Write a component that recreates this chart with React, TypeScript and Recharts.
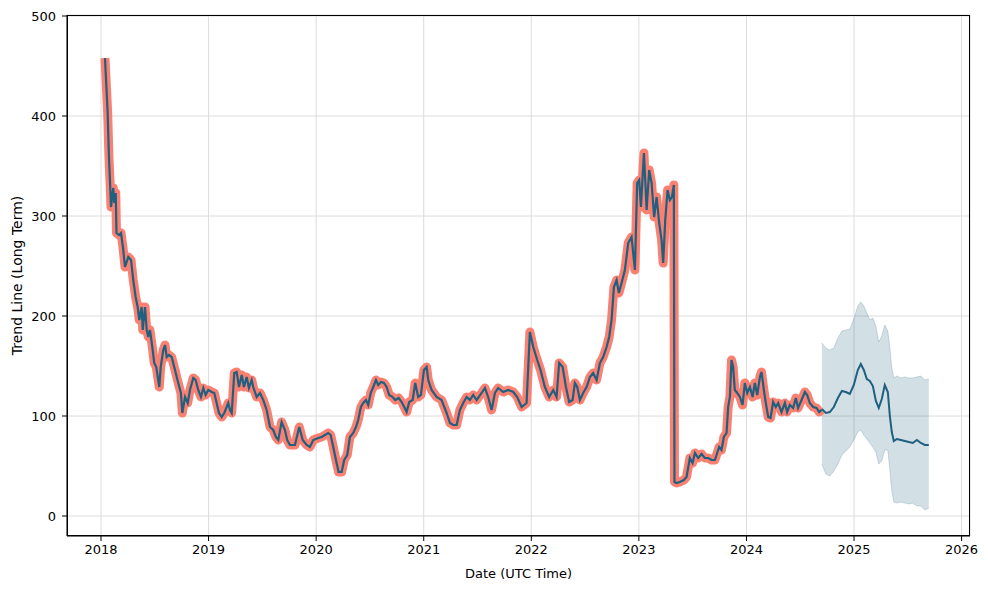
import { ComposedChart, Line, Area, XAxis, YAxis, CartesianGrid, Label } from 'recharts';

// history (decimal years, value)
const histT = [
  2018.037, 2018.062, 2018.074, 2018.086, 2018.093, 2018.114, 2018.124, 2018.137, 2018.144, 2018.167,
  2018.186, 2018.204, 2018.223, 2018.254, 2018.279, 2018.300, 2018.322, 2018.341, 2018.356, 2018.378,
  2018.388, 2018.409, 2018.425, 2018.440, 2018.455, 2018.477, 2018.495, 2018.514, 2018.542, 2018.555,
  2018.579, 2018.595, 2018.611, 2018.632, 2018.657, 2018.688, 2018.718, 2018.743, 2018.756, 2018.781,
  2018.806, 2018.827, 2018.858, 2018.880, 2018.904, 2018.929, 2018.951, 2018.973, 2018.997, 2019.029,
  2019.053, 2019.075, 2019.097, 2019.122, 2019.146, 2019.168, 2019.183, 2019.199, 2019.215, 2019.239,
  2019.261, 2019.283, 2019.308, 2019.329, 2019.354, 2019.375, 2019.401, 2019.415, 2019.447, 2019.478,
  2019.508, 2019.540, 2019.571, 2019.601, 2019.626, 2019.648, 2019.679, 2019.710, 2019.731, 2019.756,
  2019.803, 2019.843, 2019.875, 2019.912, 2019.942, 2019.973, 2020.020, 2020.051, 2020.082, 2020.112,
  2020.135, 2020.159, 2020.184, 2020.209, 2020.237, 2020.261, 2020.289, 2020.314, 2020.345, 2020.370,
  2020.391, 2020.416, 2020.438, 2020.463, 2020.484, 2020.507, 2020.531, 2020.556, 2020.577, 2020.602,
  2020.630, 2020.655, 2020.679, 2020.711, 2020.735, 2020.767, 2020.795, 2020.819, 2020.841, 2020.865,
  2020.897, 2020.921, 2020.949, 2020.974, 2021.002, 2021.027, 2021.042, 2021.073, 2021.120, 2021.166,
  2021.213, 2021.244, 2021.274, 2021.306, 2021.336, 2021.367, 2021.399, 2021.429, 2021.460, 2021.492,
  2021.538, 2021.569, 2021.599, 2021.631, 2021.662, 2021.692, 2021.739, 2021.785, 2021.832, 2021.869,
  2021.910, 2021.956, 2021.987, 2022.018, 2022.055, 2022.086, 2022.126, 2022.166, 2022.204, 2022.235,
  2022.259, 2022.291, 2022.322, 2022.352, 2022.384, 2022.405, 2022.427, 2022.452, 2022.482, 2022.514,
  2022.545, 2022.575, 2022.607, 2022.638, 2022.668, 2022.700, 2022.724, 2022.746, 2022.768, 2022.793,
  2022.814, 2022.839, 2022.870, 2022.901, 2022.932, 2022.963, 2022.984, 2023.003, 2023.019, 2023.047,
  2023.072, 2023.096, 2023.118, 2023.142, 2023.165, 2023.189, 2023.211, 2023.226, 2023.245, 2023.267,
  2023.288, 2023.307, 2023.325, 2023.331, 2023.350, 2023.381, 2023.418, 2023.443, 2023.474, 2023.499,
  2023.521, 2023.551, 2023.583, 2023.613, 2023.644, 2023.676, 2023.706, 2023.722, 2023.746, 2023.768,
  2023.790, 2023.815, 2023.830, 2023.846, 2023.861, 2023.876, 2023.892, 2023.914, 2023.939, 2023.964,
  2023.985, 2024.007, 2024.032, 2024.057, 2024.078, 2024.100, 2024.125, 2024.140, 2024.162, 2024.180,
  2024.202, 2024.224, 2024.248, 2024.273, 2024.295, 2024.326, 2024.357, 2024.378, 2024.403, 2024.434,
  2024.459, 2024.480, 2024.512, 2024.543, 2024.564, 2024.589, 2024.620, 2024.652, 2024.676, 2024.698,
];
const histV = [
  458, 403, 359, 329, 309, 328, 313, 323, 283, 281,
  283, 269, 249, 259, 256, 236, 219, 209, 196, 209,
  186, 209, 186, 179, 186, 169, 153, 149, 129, 149,
  166, 171, 159, 161, 159, 146, 133, 123, 103, 119,
  113, 126, 138, 136, 126, 119, 128, 121, 126, 124,
  123, 113, 103, 99, 103, 109, 113, 106, 103, 143,
  144, 129, 141, 129, 139, 128, 136, 129, 119, 123,
  116, 106, 89, 86, 79, 76, 94, 86, 76, 71,
  71, 89, 76, 71, 69, 76, 78, 79, 81, 83,
  81, 69, 56, 44, 44, 56, 61, 79, 83, 89,
  96, 109, 113, 116, 111, 123, 129, 136, 131, 134,
  133, 129, 121, 119, 116, 118, 114, 109, 104, 114,
  116, 133, 119, 121, 146, 149, 136, 126, 119, 116,
  103, 93, 91, 91, 106, 113, 119, 116, 121, 116,
  123, 128, 119, 106, 123, 128, 124, 126, 124, 119,
  109, 113, 184, 169, 156, 146, 129, 119, 126, 119,
  153, 149, 129, 114, 116, 133, 129, 116, 123, 129,
  139, 143, 136, 153, 159, 169, 179, 196, 229, 236,
  223, 233, 246, 273, 279, 246, 333, 336, 309, 363,
  306, 346, 333, 299, 319, 293, 276, 253, 296, 326,
  316, 319, 331, 34, 33, 34, 36, 39, 58, 53,
  63, 58, 62, 58, 58, 56, 56, 61, 69, 66,
  79, 83, 109, 119, 156, 149, 126, 123, 119, 111,
  133, 123, 129, 119, 133, 121, 139, 144, 126, 113,
  99, 98, 114, 109, 113, 104, 113, 104, 111, 108,
  118, 108, 116, 124, 121, 113, 109, 108, 104, 106,
];

// forecast
const fcT = [
  2024.701, 2024.738, 2024.775, 2024.812, 2024.850, 2024.887, 2024.924, 2024.961, 2024.998, 2025.035,
  2025.063, 2025.091, 2025.119, 2025.147, 2025.175, 2025.203, 2025.230, 2025.258, 2025.286, 2025.314,
  2025.333, 2025.351, 2025.370, 2025.398, 2025.435, 2025.472, 2025.509, 2025.546, 2025.584, 2025.621,
  2025.658, 2025.695,
];
const fcV = [
  107, 103, 104, 109, 118, 125, 124, 122, 131, 146,
  152, 146, 137, 135, 130, 115, 108, 117, 131, 124,
  100, 84, 75, 77, 76, 75, 74, 73, 76, 73,
  71, 71,
];
const fcLo = [
  52, 42, 40, 45, 52, 61, 65, 69, 76, 84,
  86, 81, 77, 73, 69, 64, 52, 55, 66, 66,
  46, 25, 14, 13, 14, 13, 12, 13, 10, 10,
  6, 8,
];
const fcHi = [
  173, 168, 166, 168, 178, 185, 186, 187, 197, 210,
  214, 210, 203, 196, 198, 190, 174, 180, 191, 185,
  168, 148, 138, 140, 138, 139, 138, 138, 139, 140,
  136, 137,
];

const yearTicks = [2018, 2019, 2020, 2021, 2022, 2023, 2024, 2025, 2026];
const valueTicks = [0, 100, 200, 300, 400, 500];

const data = [
  ...histT.map((t, i) => ({ t, v: histV[i] })),
  ...fcT.map((t, i) => ({ t, f: fcV[i], band: [fcLo[i], fcHi[i]] })),
];

const BLUE = '#1f5f7f';
const FONT = 'DejaVu Sans, sans-serif';
const xDomain = [2017.684, 2026.078];
const yDomain = [-20, 501];

export default function App() {
  const tickStyle = { fill: '#000', fontSize: 13, fontFamily: FONT };
  return (
    <div style={{ position: 'absolute', left: 0, top: 0, width: 988, height: 589, background: '#fff' }}>
      <ComposedChart
        width={988}
        height={589}
        data={data}
        margin={{ top: 15, right: 18, bottom: 0, left: 0 }}
      >
        <CartesianGrid stroke="#dcdcdc" strokeWidth={1} />
        <XAxis
          dataKey="t"
          type="number"
          domain={xDomain}
          ticks={yearTicks}
          allowDataOverflow
          height={53}
          tick={tickStyle}
          tickSize={5}
          tickMargin={4}
          stroke="#000"
          tickFormatter={(v) => String(v)}
        >
          <Label value="Date (UTC Time)" position="insideBottom" offset={11} style={{ fontSize: 13, fontFamily: FONT, fill: '#000' }} />
        </XAxis>
        <YAxis
          type="number"
          domain={yDomain}
          ticks={valueTicks}
          allowDataOverflow
          width={67}
          tick={tickStyle}
          tickSize={5}
          tickMargin={6}
          stroke="#000"
        >
          <Label value="Trend Line (Long Term)" angle={-90} position="center" dx={-16} style={{ fontSize: 14, fontFamily: FONT, fill: '#000', textAnchor: 'middle' }} />
        </YAxis>
        <Area
          dataKey="band"
          type="linear"
          fill={BLUE}
          fillOpacity={0.2}
          stroke={BLUE}
          strokeOpacity={0.2}
          strokeWidth={1}
          isAnimationActive={false}
          dot={false}
          activeDot={false}
        />
        <Line dataKey="v" type="linear" stroke="#fa8072" strokeWidth={9} strokeLinejoin="round" dot={false} activeDot={false} isAnimationActive={false} />
        <Line dataKey="v" type="linear" stroke={BLUE} strokeWidth={2.2} dot={false} activeDot={false} isAnimationActive={false} />
        <Line dataKey="f" type="linear" stroke={BLUE} strokeWidth={2} dot={false} activeDot={false} isAnimationActive={false} />
      </ComposedChart>
      <div
        style={{
          position: 'absolute',
          left: 67,
          top: 15,
          width: 903,
          height: 521,
          boxSizing: 'border-box',
          border: '1px solid #000',
          pointerEvents: 'none',
        }}
      />
    </div>
  );
}
